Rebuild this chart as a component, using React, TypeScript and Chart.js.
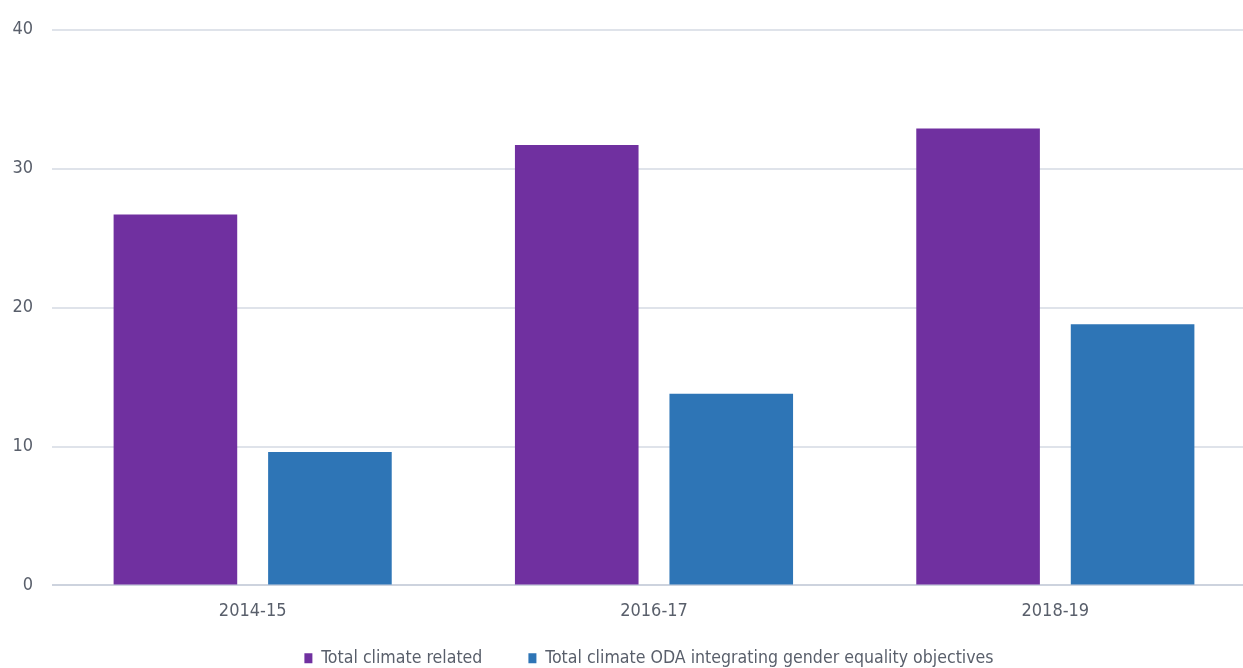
import React, { useEffect, useRef } from "react";
import { Chart, registerables } from "chart.js";

Chart.register(...registerables);

const categories = ["2014-15", "2016-17", "2018-19"];
const totalClimateRelated = [26.7, 31.7, 32.9];
const genderEqualityODA = [9.6, 13.8, 18.8];
const seriesLabels = [
  "Total climate related",
  "Total climate ODA integrating gender equality objectives",
];
const yTicks = [0, 10, 20, 30, 40];

const FONT = "'Liberation Sans Narrow', 'Arial Narrow', 'DejaVu Sans Condensed', sans-serif";
const W = 1262;
const H = 677;

const layoutTweaks = {
  id: "layoutTweaks",
  afterLayout(chart: any) {
    const x = chart.scales.x;
    if (x) x.bottom = chart.height;
    const lg = chart.legend;
    if (lg) {
      lg.left -= 5;
      lg.right -= 5;
    }
  },
};

export default function App() {
  const ref = useRef<HTMLCanvasElement | null>(null);

  useEffect(() => {
    document.documentElement.style.overflow = "hidden";
    document.body.style.overflow = "hidden";
    const canvas = ref.current;
    if (!canvas) return;
    const chart = new Chart(canvas, {
      type: "bar",
      data: {
        labels: categories,
        datasets: [
          {
            label: seriesLabels[0],
            data: totalClimateRelated,
            backgroundColor: "#7030A0",
            categoryPercentage: 0.77,
            barPercentage: 0.8,
          },
          {
            label: seriesLabels[1],
            data: genderEqualityODA,
            backgroundColor: "#2E75B6",
            categoryPercentage: 0.77,
            barPercentage: 0.8,
          },
        ],
      },
      plugins: [layoutTweaks],
      options: {
        animation: false,
        responsive: false,
        maintainAspectRatio: false,
        layout: { padding: { left: 13, right: 6, top: 19, bottom: 0 } },
        plugins: {
          tooltip: { enabled: false },
          legend: {
            position: "bottom",
            fullSize: false,
            labels: {
              boxWidth: 8,
              boxHeight: 10,
              padding: 46,
              color: "#595f6b",
              font: { family: FONT, size: 17.6 },
            },
          },
        },
        scales: {
          x: {
            grid: { display: false, drawTicks: false },
            border: { display: false },
            ticks: {
              color: "#595f6b",
              padding: 15,
              font: { family: FONT, size: 18 },
            },
            afterFit: (scale: any) => {
              scale.height = 18;
            },
          },
          y: {
            min: yTicks[0],
            max: yTicks[yTicks.length - 1],
            grid: {
              drawTicks: false,
              color: (ctx: any) => (ctx.tick && ctx.tick.value === 0 ? "#cdd3de" : "#dfe3ea"),
              lineWidth: 2,
            },
            border: { display: false },
            afterBuildTicks: (scale: any) => {
              scale.ticks = yTicks.map((v) => ({ value: v }));
            },
            afterFit: (scale: any) => {
              scale.width = 39;
            },
            ticks: {
              padding: 19,
              color: "#595f6b",
              font: { family: FONT, size: 18 },
            },
          },
        },
      },
    });
    return () => chart.destroy();
  }, []);

  return (
    <div style={{ position: "fixed", left: 0, top: 0, width: W, height: H, overflow: "hidden", background: "#fff" }}>
      <canvas ref={ref} width={W} height={H} style={{ width: W, height: H, display: "block" }} />
    </div>
  );
}
